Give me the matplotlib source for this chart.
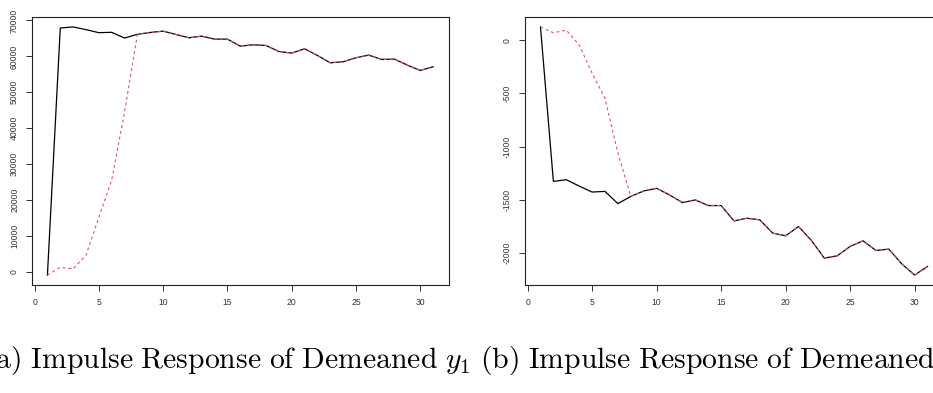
import matplotlib
matplotlib.use("Agg")
import matplotlib.pyplot as plt

plt.rcParams['mathtext.fontset'] = 'cm'
plt.rcParams['font.family'] = ['Liberation Sans', 'DejaVu Sans']

horizon = list(range(1, 32))

a_black = [-850, 67900, 68200, 67450, 66600, 66700, 65100, 66150, 66660, 67030,
           66100, 65180, 65640, 64800, 64800, 62860, 63230, 63045, 61375, 60910,
           62120, 60260, 58225, 58500, 59615, 60360, 59150, 59240, 57575, 56090, 57110]
a_red = [-850, 1300, 850, 4700, 15200, 25600, 44500, 66150, 66660, 67030,
         66100, 65180, 65640, 64800, 64800, 62860, 63230, 63045, 61375, 60910,
         62120, 60260, 58225, 58500, 59615, 60360, 59150, 59240, 57575, 56090, 57110]

b_black = [125, -1326, -1310, -1370, -1426, -1420, -1535, -1467, -1416, -1391,
           -1453, -1525, -1500, -1553, -1553, -1697, -1672, -1687, -1812, -1837,
           -1750, -1881, -2047, -2025, -1937, -1884, -1975, -1962, -2100, -2206, -2125]
b_red = [125, 70, 95, -45, -310, -545, -1060, -1467, -1416, -1391,
         -1453, -1525, -1500, -1553, -1553, -1697, -1672, -1687, -1812, -1837,
         -1750, -1881, -2047, -2025, -1937, -1884, -1975, -1962, -2100, -2206, -2125]

x_ticks = [0, 5, 10, 15, 20, 25, 30]
a_yticks = [0, 10000, 20000, 30000, 40000, 50000, 60000, 70000]
b_yticks = [0, -500, -1000, -1500, -2000]

captions = [r'$\mathrm{(a)\ Impulse\ Response\ of\ Demeaned}\ y_1$',
            r'$\mathrm{(b)\ Impulse\ Response\ of\ Demeaned}$']

W, H = 933, 393
fig = plt.figure(figsize=(W / 100, H / 100), dpi=100)

def rlim(vals):
    lo, hi = min(vals), max(vals)
    r = hi - lo
    return lo - 0.04 * r, hi + 0.04 * r

def panel(rect, black, red, yticks):
    ax = fig.add_axes(rect)
    ax.plot(horizon, black, color='black', lw=0.9, solid_joinstyle='miter')
    ax.plot(horizon, red, color='#DF536B', lw=0.8, dashes=(2.6, 2.6))
    ax.set_xlim(-0.2, 32.2)
    ax.set_ylim(*rlim(black + red))
    ax.set_xticks(x_ticks)
    ax.set_yticks(yticks)
    ax.set_yticklabels([str(v) for v in yticks], rotation=90, va='center')
    ax.tick_params(axis='both', length=4.3, width=0.7, color='#333333',
                   labelsize=6.2, labelcolor='#333333', pad=5.0)
    for s in ax.spines.values():
        s.set_linewidth(0.8)
        s.set_color('#222222')
    return ax

panel([32 / W, 108 / H, 416.5 / W, 268 / H], a_black, a_red, a_yticks)
panel([525 / W, 108 / H, 418 / W, 268 / H], b_black, b_red, b_yticks)

fig.text(470 / W, (H - 368) / H, captions[0], fontsize=21.4, ha='right', va='baseline')
fig.text(480 / W, (H - 368) / H, captions[1], fontsize=21.4, ha='left', va='baseline')

fig.savefig('out.png', dpi=100)
